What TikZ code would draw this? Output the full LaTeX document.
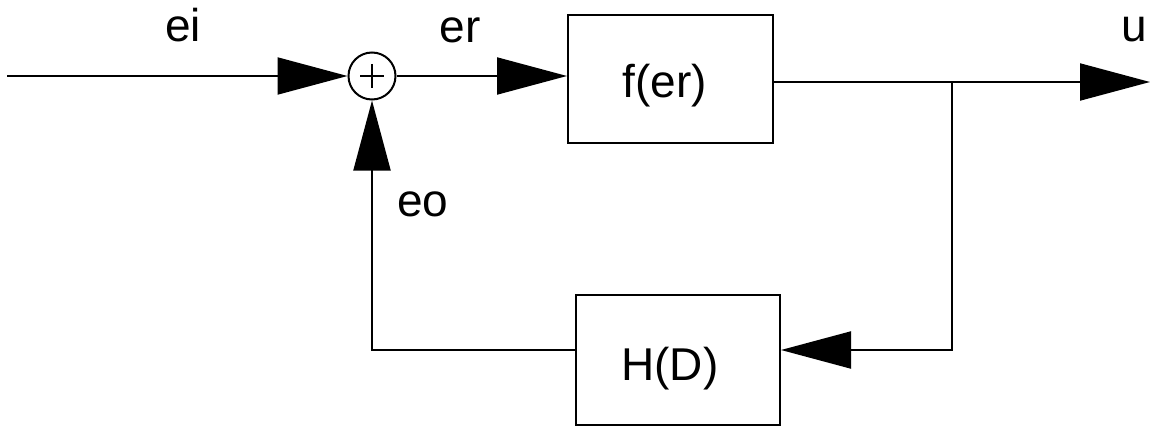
\documentclass[tikz,border=0pt]{standalone}
\usepackage{fontspec}
\setmainfont{Liberation Sans}
\usetikzlibrary{arrows.meta,calc}
\begin{document}
\begin{tikzpicture}[x=1pt,y=-1pt,
  line width=2pt,
  sig/.style={-{Triangle[length=70pt,width=37pt]}},
  blk/.style={draw,rectangle,inner sep=0pt,line width=2pt},
  lbl/.style={anchor=base,inner sep=0pt,font=\fontsize{46}{50}\selectfont}]
\useasboundingbox (0,0) rectangle (1151,428);
\node[draw,circle,minimum size=47pt,inner sep=0pt,line width=2pt] (sum) at (372,76) {};
\draw[line width=1.8pt] ($(sum.center)+(-12,0)$) -- ($(sum.center)+(12,0)$);
\draw[line width=1.8pt] ($(sum.center)+(0,-12)$) -- ($(sum.center)+(0,12)$);
\node[blk,minimum width=205pt,minimum height=128pt] (f) at (670.5,79) {};
\node[blk,minimum width=204pt,minimum height=130pt] (h) at (678,360) {};
\coordinate (in) at (7,76);
\coordinate (out) at (1150,82);
\coordinate (br) at (952,82);
\coordinate (brd) at (952,350);
\draw[sig] (in) -- (sum.west);
\draw[sig] (sum.east) -- (sum.east -| f.west);
\draw[sig] (f.east |- out) -- (out);
\draw[sig] (br) -- (brd) -- (brd -| h.east);
\draw[sig] (h.west |- brd) -| (sum.south);
\node[lbl] (ei) at (183,42) {ei};
\node[lbl] (er) at (460,43) {er};
\node[lbl] (u) at (1134,42) {u};
\node[lbl] (eo) at (423,216) {eo};
\node[lbl] (ft) at (665,97) {f(er)};
\node[lbl] (ht) at (670,380) {H(D)};
\end{tikzpicture}
\end{document}
